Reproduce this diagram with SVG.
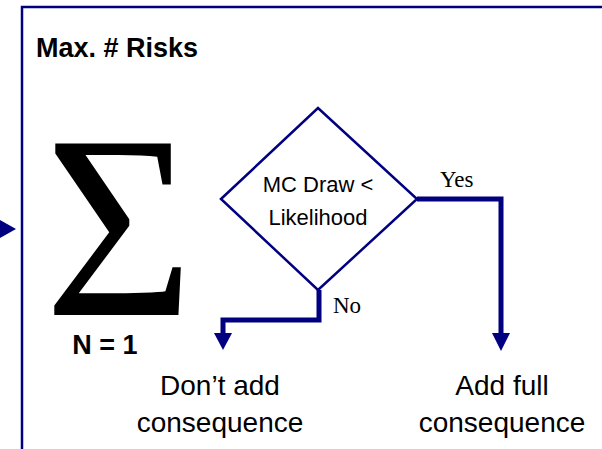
<svg xmlns="http://www.w3.org/2000/svg" width="602" height="449" viewBox="0 0 602 449">
<style>
.sans{font-family:"Liberation Sans",Arial,sans-serif;fill:#000}
.serif{font-family:"Liberation Serif","Times New Roman",serif;fill:#000}
.conn{fill:none;stroke:#000080;stroke-width:5;stroke-linejoin:miter}
.head{fill:#000080}
</style>
<rect width="602" height="449" fill="#fff"/>
<g id="frame">
<polyline points="22,449 22,7 602,7" fill="none" stroke="#000080" stroke-width="2.5"/>
<polygon class="head" points="0,220 16,229 0,238"/>
<text class="sans" x="36" y="57" font-size="27" font-weight="bold">Max. # Risks</text>
</g>
<g id="sigma">
<text class="serif" transform="translate(119,315) scale(0.98,1)" text-anchor="middle" font-size="262">Σ</text>
<text class="sans" x="105" y="354" text-anchor="middle" font-size="27" font-weight="bold">N = 1</text>
</g>
<g id="decision">
<polygon points="221,199 318,108 417,199 318,290" fill="#fff" stroke="#000080" stroke-width="2.5"/>
<text class="sans" x="318" y="192" text-anchor="middle" font-size="22">MC Draw &lt;</text>
<text class="sans" x="318" y="225" text-anchor="middle" font-size="22">Likelihood</text>
</g>
<g id="dont-add">
<text class="sans" x="220" y="395" text-anchor="middle" font-size="28">Don’t add</text>
<text class="sans" x="220" y="432" text-anchor="middle" font-size="28">consequence</text>
</g>
<g id="add-full">
<text class="sans" x="502" y="395" text-anchor="middle" font-size="28">Add full</text>
<text class="sans" x="502" y="432" text-anchor="middle" font-size="28">consequence</text>
</g>
<g id="connectors">
<polyline class="conn" points="417,199 501,199 501,334"/>
<polygon class="head" points="492,333 510,333 501,351"/>
<polyline class="conn" points="319,290 319,320 223,320 223,334"/>
<polygon class="head" points="214,333 232,333 223,350"/>
<text class="serif" x="440" y="187" font-size="23">Yes</text>
<text class="serif" x="333" y="313" font-size="23">No</text>
</g>
</svg>
